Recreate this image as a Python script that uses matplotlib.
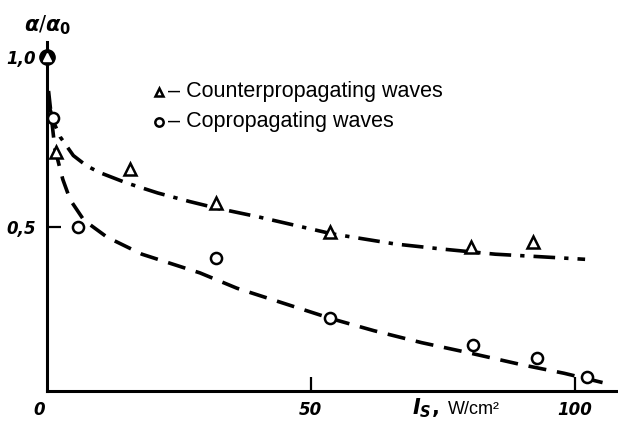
import matplotlib
matplotlib.use("Agg")
import matplotlib.pyplot as plt

# measured points, counterpropagating (triangles) and copropagating (circles)
counter_x = [0, 1.7, 15.7, 32, 53.7, 80.3, 92.2]
counter_y = [1.0, 0.72, 0.67, 0.57, 0.485, 0.44, 0.456]
co_x = [0, 1.1, 5.9, 32, 53.7, 80.8, 92.8, 102.3]
co_y = [1.0, 0.82, 0.50, 0.41, 0.232, 0.153, 0.115, 0.06]

# fitted curves
fit_counter_x = [0.5, 1.5, 2.5, 5, 7.5, 10, 15, 21, 27, 32, 40, 47, 54, 60, 66, 75, 85, 93, 102]
fit_counter_y = [0.85, 0.80, 0.765, 0.71, 0.68, 0.66, 0.63, 0.60, 0.575, 0.556, 0.53, 0.505,
                 0.48, 0.465, 0.45, 0.435, 0.42, 0.413, 0.405]
fit_co_x = [0.3, 1, 1.5, 3, 4.4, 7, 11.4, 18, 24, 29, 36, 44, 54, 62, 71, 80, 90, 98, 106]
fit_co_y = [0.9, 0.8, 0.73, 0.64, 0.58, 0.52, 0.47, 0.42, 0.39, 0.365, 0.32, 0.28, 0.23,
            0.195, 0.16, 0.13, 0.095, 0.07, 0.04]

xticks = [50, 100]
yticks = [0.5, 1.0]
ytick_labels = ["0,5", "1,0"]
legend_labels = ["Counterpropagating waves", "Copropagating waves"]

tick_font = dict(family="DejaVu Sans", style="italic", weight="bold", fontsize=12)

fig = plt.figure(figsize=(6.18, 4.24), dpi=100)
ax = fig.add_axes([0.076, 0.078, 0.922, 0.823])

ax.plot(fit_counter_x, fit_counter_y, color="black", lw=2.6, dashes=(6, 2.5, 1.2, 2.5))
ax.plot(fit_co_x, fit_co_y, color="black", lw=2.6, dashes=(5, 3))

ax.plot(counter_x[1:], counter_y[1:], "^", ms=8, mfc="white", mec="black", mew=1.8,
        linestyle="none", clip_on=False)
ax.plot(co_x[1:], co_y[1:], "o", ms=8, mfc="white", mec="black", mew=1.8,
        linestyle="none", clip_on=False)
# origin point shared by both series
ax.plot(co_x[0], co_y[0], "o", ms=11, mfc="black", mec="black", clip_on=False, zorder=5)
ax.plot(counter_x[0], counter_y[0], "^", ms=6, mfc="white", mec="white", clip_on=False, zorder=6)

ax.set_xlim(0, 108)
ax.set_ylim(0.018, 1.044)
for s in ["top", "right"]:
    ax.spines[s].set_visible(False)
ax.spines["left"].set_linewidth(2.2)
ax.spines["bottom"].set_linewidth(2.2)

ax.set_xticks(xticks)
ax.set_xticklabels([str(v) for v in xticks], **tick_font)
ax.set_yticks(yticks)
ax.set_yticklabels(ytick_labels, **tick_font)
ax.tick_params(axis="both", direction="in", length=10, width=1.6)
ax.tick_params(axis="x", pad=7)
ax.tick_params(axis="y", pad=8)
ax.yaxis.get_major_ticks()[1].tick1line.set_visible(False)
ax.text(-0.014, -0.03, "0", transform=ax.transAxes, ha="center", va="top", **tick_font)

# axis labels
fig.text(0.078, 0.94, r"$\boldsymbol{\alpha}/\boldsymbol{\alpha}_{\mathbf{0}}$",
         ha="center", va="center", fontsize=15)
fig.text(412 / 618, 1 - 408 / 424, r"$\boldsymbol{I}_{\boldsymbol{S}}$,", ha="left", va="center",
         fontsize=15, weight="bold")
fig.text(448 / 618, 1 - 409 / 424, "W/cm²", ha="left", va="center",
         fontsize=13, family="Liberation Sans")

# legend drawn as text
leg_y = [0.897, 0.809]
ax.plot([21.3], [leg_y[0]], "^", ms=6, mfc="white", mec="black", mew=1.8)
ax.plot([21.3], [leg_y[1]], "o", ms=6, mfc="white", mec="black", mew=1.8)
for yy, lbl in zip(leg_y, legend_labels):
    ax.text(23.0, yy, "– " + lbl, va="center", fontsize=15.5, family="Liberation Sans")

fig.savefig("out.png", dpi=100)
